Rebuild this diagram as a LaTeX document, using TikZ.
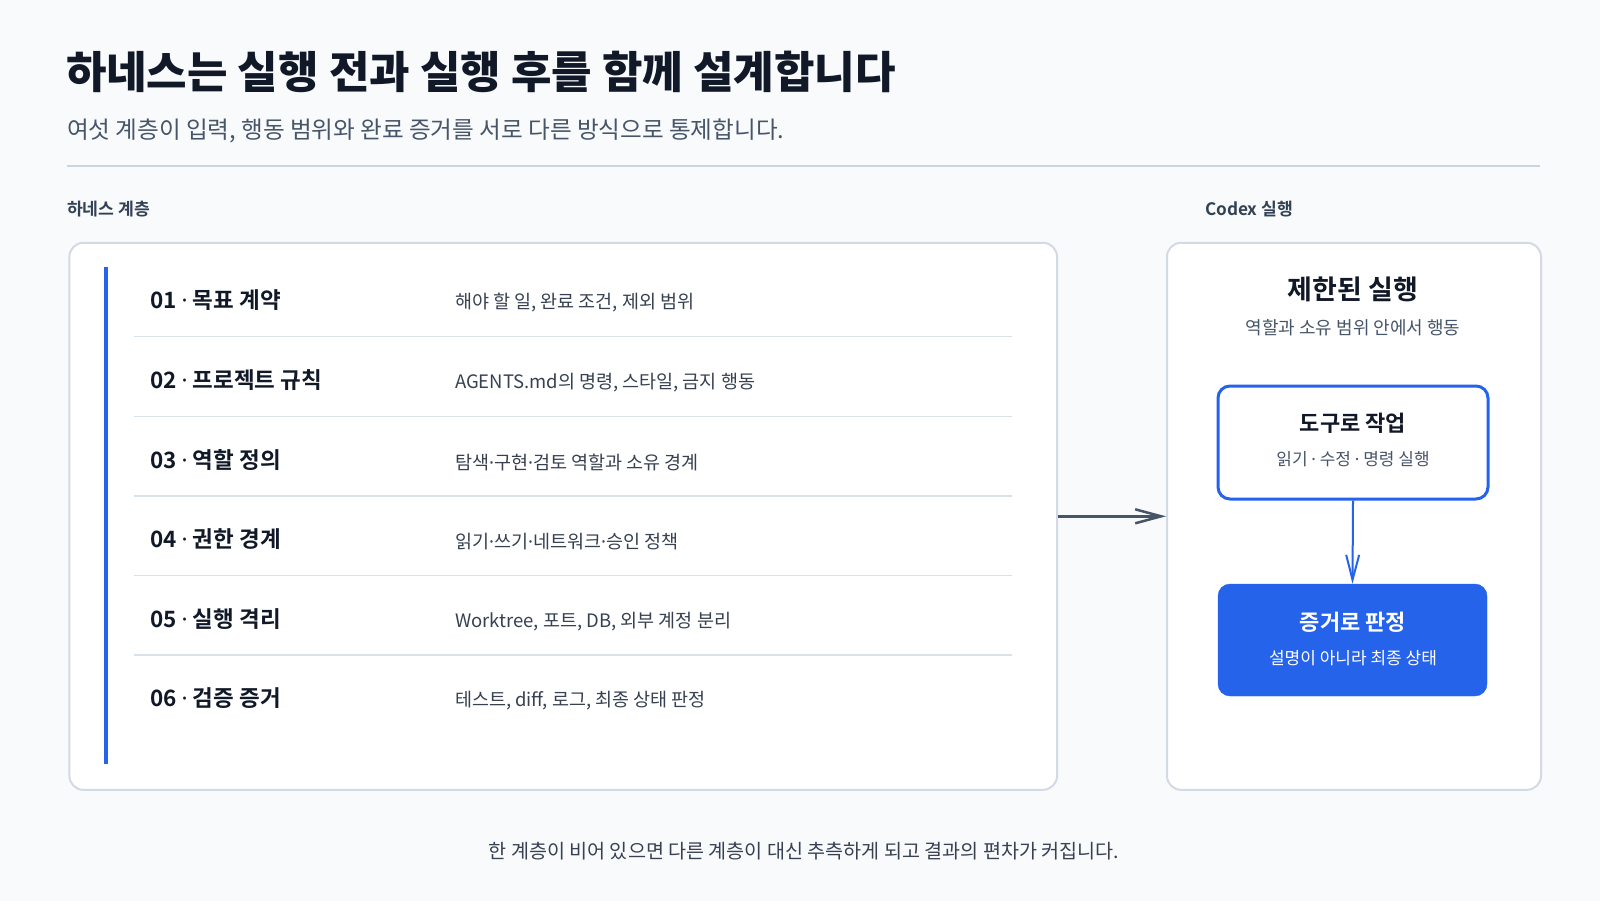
\documentclass[tikz,border=0pt]{standalone}
\usepackage{fontspec}
\setmainfont{Noto Sans CJK KR}[BoldFont={Noto Sans CJK KR Bold}]
\newfontfamily\krblack{Noto Sans CJK KR Black}
\newfontfamily\lat{Noto Sans}
\newcommand{\md}{{\lat ·}}
\usetikzlibrary{arrows.meta}
\definecolor{bgc}{HTML}{F8FAFC}
\definecolor{ink}{HTML}{111827}
\definecolor{subc}{HTML}{475569}
\definecolor{divc}{HTML}{CBD5E1}
\definecolor{secc}{HTML}{334155}
\definecolor{panelb}{HTML}{D3DAE4}
\definecolor{blue}{HTML}{2563EB}
\definecolor{descc}{HTML}{374151}
\definecolor{sepc}{HTML}{D9E1EA}
\definecolor{arrc}{HTML}{475569}
\newcommand{\fs}[1]{\fontsize{#1}{#1}\selectfont}
\tikzset{
  txt/.style={inner sep=0pt, outer sep=0pt},
  panel/.style={draw=panelb, line width=2pt, fill=white, rounded corners=14pt, inner sep=0pt},
  rowlab/.style={txt, anchor=west, text=ink, font=\fs{22.5}\bfseries},
  rowdesc/.style={txt, anchor=west, text=descc, font=\fs{18.5}},
  sepline/.style={draw=sepc, line width=1.5pt},
  toolbox/.style={draw=blue, line width=3pt, fill=white, rounded corners=12pt, minimum width=270pt, minimum height=113pt, inner sep=0pt},
  evbox/.style={draw=blue, fill=blue, rounded corners=12pt, minimum width=269pt, minimum height=112pt, inner sep=0pt},
}
\begin{document}
\begin{tikzpicture}[x=1pt, y=-1pt]
\fill[bgc] (0,0) rectangle (1600,901);
\useasboundingbox (0,0) rectangle (1600,901);
% title
\node[txt, anchor=west, text=ink, font=\fs{44}\krblack] (title) at (66,71.5) {하네스는 실행 전과 실행 후를 함께 설계합니다};
\node[txt, anchor=west, text=subc, font=\fs{23.6}] (subtitle) at (67,130.5) {여섯 계층이 입력, 행동 범위와 완료 증거를 서로 다른 방식으로 통제합니다.};
\draw[divc, line width=2pt] (67,166.3) -- (1540,166.3);
\node[txt, anchor=west, text=secc, font=\fs{17.2}\bfseries] (secL) at (67,209.5) {하네스 계층};
\node[txt, anchor=west, text=secc, font=\fs{17.2}\bfseries] (secR) at (1205,209.5) {Codex 실행};
% left panel
\node[panel, anchor=north west, minimum width=987.6pt, minimum height=547pt] (L) at (68.4,241.8) {};
\draw[blue, line width=4pt] (106,267) -- (106,764);
\foreach \n/\lab/\desc [count=\i from 0] in {
  r1/{01 \md{} 목표 계약}/{해야 할 일, 완료 조건, 제외 범위},
  r2/{02 \md{} 프로젝트 규칙}/{AGENTS.md의 명령, 스타일, 금지 행동},
  r3/{03 \md{} 역할 정의}/{탐색\md{}구현\md{}검토 역할과 소유 경계},
  r4/{04 \md{} 권한 경계}/{읽기\md{}쓰기\md{}네트워크\md{}승인 정책},
  r5/{05 \md{} 실행 격리}/{Worktree, 포트, DB, 외부 계정 분리},
  r6/{06 \md{} 검증 증거}/{테스트, diff, 로그, 최종 상태 판정}}{
  \node[rowlab] (\n l) at (150,300.5+79.6*\i) {\lab};
  \node[rowdesc] (\n d) at (455,303+79.6*\i) {\desc};
}
\foreach \i in {0,...,4}{
  \draw[sepline] (133.7,336.7+79.6*\i) -- (1012,336.7+79.6*\i);
}
% right panel
\node[panel, anchor=north west, minimum width=374pt, minimum height=547pt] (R) at (1166,241.8) {};
\node[txt, text=ink, font=\fs{27}\bfseries] (rtitle) at (1353,289) {제한된 실행};
\node[txt, text=subc, font=\fs{18}] (rsub) at (1353,328) {역할과 소유 범위 안에서 행동};
\node[toolbox] (b1) at (1353,442.5) {};
\node[txt, text=ink, font=\fs{22}\bfseries] (b1t) at (1353,423.5) {도구로 작업};
\node[txt, text=subc, font=\fs{17}] (b1s) at (1353,459.5) {읽기 \md{} 수정 \md{} 명령 실행};
\node[evbox] (b2) at (1352.5,640) {};
\node[txt, text=white, font=\fs{22}\bfseries] (b2t) at (1353,622.5) {증거로 판정};
\node[txt, text=white, font=\fs{17}] (b2s) at (1353,658) {설명이 아니라 최종 상태};
% connectors
\draw[blue, line width=2pt, -{Straight Barb[length=25pt, width=13pt, line width=2pt]}] (b1.south) -- (b2.north);
\draw[arrc, line width=2.5pt, -{Straight Barb[length=26pt, width=14pt, line width=2.5pt]}] (L.east) -- (R.west);
% footer
\node[txt, text=descc, font=\fs{19.6}] (foot) at (804,851.5) {한 계층이 비어 있으면 다른 계층이 대신 추측하게 되고 결과의 편차가 커집니다.};
\end{tikzpicture}
\end{document}
